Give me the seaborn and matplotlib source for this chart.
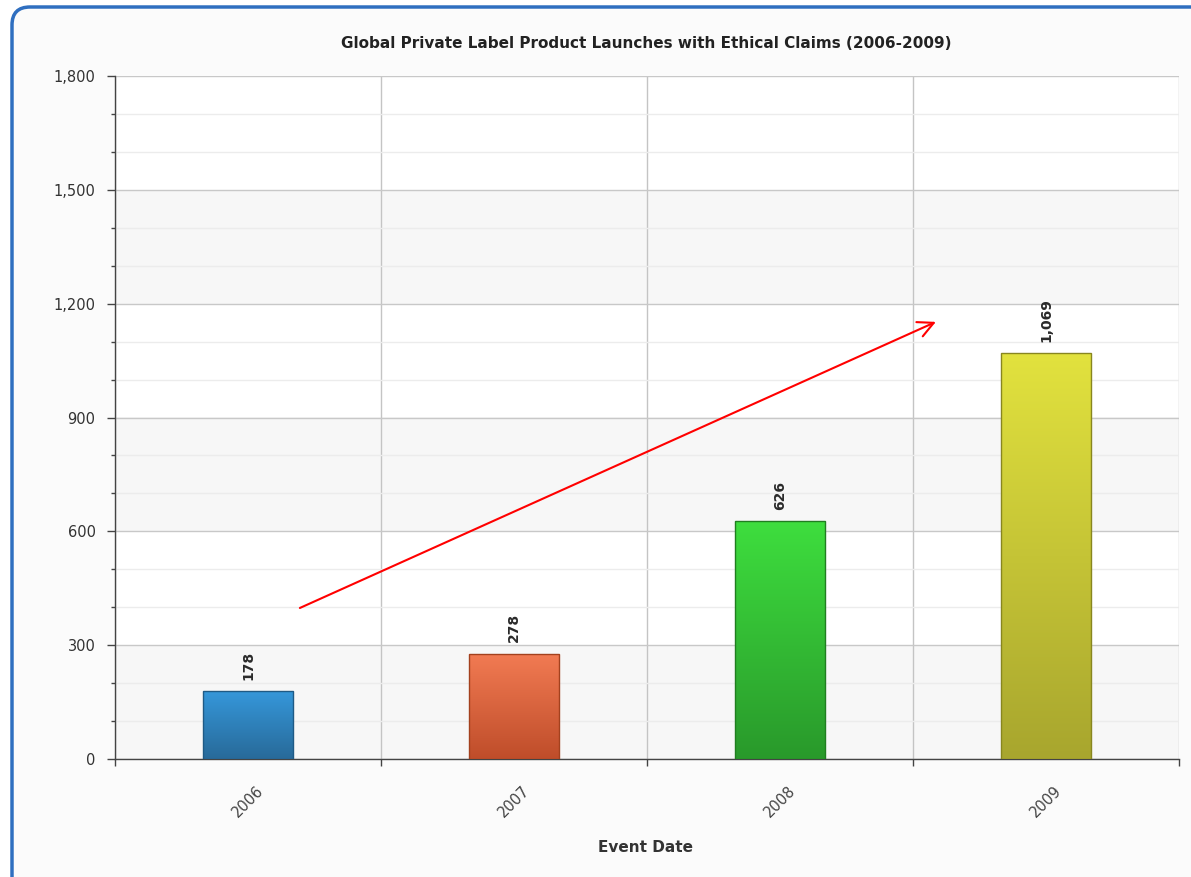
import numpy as np
import pandas as pd
import matplotlib
matplotlib.use("Agg")
import matplotlib.pyplot as plt
import seaborn as sns
from matplotlib.patches import FancyBboxPatch
from matplotlib.colors import LinearSegmentedColormap
from matplotlib.transforms import IdentityTransform

# ---- data ----
years = ["2006", "2007", "2008", "2009"]
launches = [178, 278, 626, 1069]
value_labels = ["178", "278", "626", "1,069"]
y_ticks = [0, 300, 600, 900, 1200, 1500, 1800]
y_tick_labels = ["0", "300", "600", "900", "1,200", "1,500", "1,800"]
top_colors = ["#3597da", "#f27b53", "#3ede3e", "#e2e23e"]
bottom_colors = ["#286a99", "#bf4d2a", "#29992b", "#a8a62e"]
edge_colors = ["#1f5a85", "#a3411e", "#207e20", "#88861f"]
arrow_start = (0.195, 398)
arrow_end = (2.586, 1152)

sns.set_theme(style="white")
plt.rcParams['font.family'] = ['DejaVu Sans']

W, H = 1191, 877
fig = plt.figure(figsize=(W / 100, H / 100), dpi=100)
fig.patch.set_facecolor("white")

# rounded frame
frame = FancyBboxPatch((12, -30), W - 12 + 30, H - 7 + 30,
                       boxstyle="round,pad=0,rounding_size=18",
                       transform=IdentityTransform(), facecolor="#fbfbfb",
                       edgecolor="#2f6fc0", linewidth=2.5, zorder=-10)
fig.patches.append(frame)

ax = fig.add_axes([115 / W, 1 - 759 / H, (1179 - 115) / W, (759 - 76) / H])
ax.set_zorder(1)
ax.set_facecolor("white")

df = pd.DataFrame({"year": years, "launches": launches})
sns.barplot(data=df, x="year", y="launches", hue="year", palette=top_colors,
            legend=False, width=0.34, ax=ax, zorder=3)

ax.set_xlim(-0.5, 3.5)
ax.set_ylim(0, 1800)

# gradient fill on bars
for patch, ct, cb, ec in zip(ax.patches, top_colors, bottom_colors, edge_colors):
    x0, y0 = patch.get_x(), patch.get_y()
    w, h = patch.get_width(), patch.get_height()
    cmap = LinearSegmentedColormap.from_list("g", [cb, ct])
    grad = np.linspace(0, 1, 256).reshape(-1, 1)
    im = ax.imshow(grad, extent=[x0, x0 + w, y0, y0 + h], origin="lower",
                   aspect="auto", cmap=cmap, zorder=3.5)
    im.set_clip_path(patch)
    patch.set_facecolor("none")
    patch.set_edgecolor(ec)
    patch.set_linewidth(1.0)
    patch.set_zorder(4)

ax.set_xlim(-0.5, 3.5)
ax.set_ylim(0, 1800)

# alternating bands
for lo in [0, 600, 1200]:
    ax.axhspan(lo, lo + 300, color="#f7f7f7", zorder=0, lw=0)

# ticks & grid
ax.set_yticks(y_ticks)
ax.set_yticklabels(y_tick_labels)
ax.set_yticks(np.arange(0, 1801, 100), minor=True)
ax.set_xticks(range(len(years)))
ax.set_xticklabels(years, rotation=45, ha="center", rotation_mode="default")
ax.set_xticks([-0.5, 0.5, 1.5, 2.5, 3.5], minor=True)

ax.set_axisbelow(True)
ax.yaxis.grid(True, which="major", color="#c8c8c8", lw=1.0)
ax.yaxis.grid(True, which="minor", color="#ececec", lw=1.0)
ax.xaxis.grid(True, which="minor", color="#c4c4c4", lw=1.0)
ax.xaxis.grid(False, which="major")

ax.tick_params(axis="y", which="major", length=6, width=1, color="#444",
               labelsize=10.5, labelcolor="#333", pad=8, left=True)
ax.tick_params(axis="y", which="minor", length=3, width=1, color="#444", left=True)
ax.tick_params(axis="x", which="major", length=0, labelsize=10.5,
               labelcolor="#444", pad=17)
ax.tick_params(axis="x", which="minor", length=5, width=1, color="#444", bottom=True)

for s in ["top", "right"]:
    ax.spines[s].set_visible(False)
for s in ["left", "bottom"]:
    ax.spines[s].set_color("#444")
    ax.spines[s].set_linewidth(1.0)

ax.set_xlabel("")
ax.set_ylabel("")

# value labels
for i, (v, lab) in enumerate(zip(launches, value_labels)):
    ax.annotate(lab, xy=(i, v), xytext=(0, 8), textcoords="offset points",
                rotation=90, ha="center", va="bottom", fontsize=10,
                fontweight="bold", color="#2a2a2a", zorder=6)

# trend arrow
ax.annotate("", xy=arrow_end, xytext=arrow_start,
            arrowprops=dict(arrowstyle="->", color="red", lw=1.5,
                            mutation_scale=28, shrinkA=0, shrinkB=0),
            zorder=7)

fig.text(646 / W, 1 - 43 / H,
         "Global Private Label Product Launches with Ethical Claims (2006-2009)",
         ha="center", va="center", fontsize=11, fontweight="bold", color="#222")
fig.text(646 / W, 1 - 847 / H, "Event Date", ha="center", va="center",
         fontsize=11, fontweight="bold", color="#333")

fig.savefig("out.png", dpi=100, facecolor=fig.get_facecolor())
